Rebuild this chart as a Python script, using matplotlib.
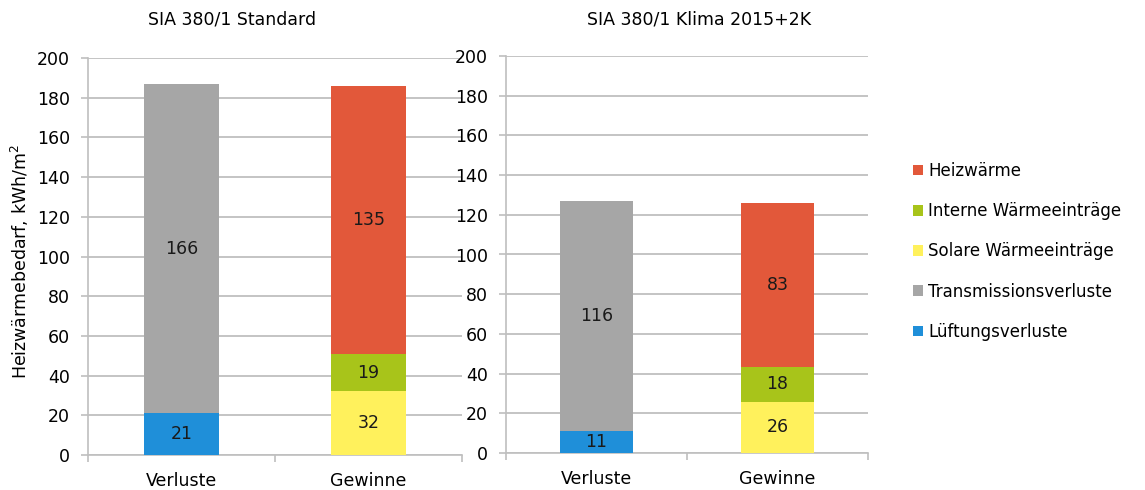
import matplotlib.pyplot as plt
import numpy as np

plt.rcParams['font.family'] = ['DejaVu Sans']

categories = ["Verluste", "Gewinne"]
series_names = ["Lüftungsverluste", "Transmissionsverluste", "Solare Wärmeeinträge",
                "Interne Wärmeeinträge", "Heizwärme"]
colors = ["#1F8FD9", "#A6A6A6", "#FFF15C", "#A8C41A", "#E2583A"]

# values per series: [Verluste, Gewinne]
standard = {
    "Lüftungsverluste": [21, 0],
    "Transmissionsverluste": [166, 0],
    "Solare Wärmeeinträge": [0, 32],
    "Interne Wärmeeinträge": [0, 19],
    "Heizwärme": [0, 135],
}
klima = {
    "Lüftungsverluste": [11, 0],
    "Transmissionsverluste": [116, 0],
    "Solare Wärmeeinträge": [0, 25.7],
    "Interne Wärmeeinträge": [0, 17.7],
    "Heizwärme": [0, 82.7],
}
titles = ["SIA 380/1 Standard", "SIA 380/1 Klima 2015+2K"]
yticks = np.arange(0, 201, 20)

fig = plt.figure(figsize=(11.45, 4.9), dpi=100)
ax1 = fig.add_axes([88/1145, 1-455/490, 374/1145, 397/490])
ax2 = fig.add_axes([506/1145, 1-453/490, 362/1145, 397/490])

grid_c = "#BFBFBF"
fs = 12.5
handles = {}
for ax, data in [(ax1, standard), (ax2, klima)]:
    x = np.arange(len(categories))
    bottom = np.zeros(len(categories))
    for name, col in zip(series_names, colors):
        vals = np.array(data[name], dtype=float)
        bars = ax.bar(x, vals, 0.4, bottom=bottom, color=col, label=name, zorder=3)
        labels = [f"{v:.0f}" if v > 0 else "" for v in vals]
        ax.bar_label(bars, labels=labels, label_type='center', fontsize=fs, color="#1a1a1a")
        handles[name] = bars
        bottom += vals
    ax.set_xlim(-0.5, 1.5)
    ax.set_ylim(0, 200)
    ax.set_yticks(yticks)
    ax.set_xticks(x)
    ax.set_xticklabels(categories)
    ax.set_xticks([-0.5, 0.5, 1.5], minor=True)
    ax.tick_params(axis='x', which='major', length=0, pad=12, labelsize=fs)
    ax.tick_params(axis='x', which='minor', length=5, color=grid_c, width=1.2)
    ax.tick_params(axis='y', length=5, color=grid_c, width=1.2, pad=8, labelsize=fs)
    ax.grid(axis='y', color=grid_c, linewidth=1.3, zorder=0)
    for s in ['top', 'right']:
        ax.spines[s].set_visible(False)
    for s in ['left', 'bottom']:
        ax.spines[s].set_color(grid_c)
        ax.spines[s].set_linewidth(1.2)

fig.text(232/1145, 1-20/490, titles[0], ha='center', va='center', fontsize=fs)
fig.text(699/1145, 1-20/490, titles[1], ha='center', va='center', fontsize=fs)
fig.text(20/1145, 1-262/490, "Heizwärmebedarf, kWh/m$^2$", rotation=90,
         ha='center', va='center', fontsize=fs)

order = series_names[::-1]
fig.legend([handles[n] for n in order], order, loc='upper left',
           bbox_to_anchor=(898/1145, 1-147/490), frameon=False, fontsize=12,
           handlelength=0.6, handleheight=0.6, handletextpad=0.3, labelspacing=1.33)

fig.savefig("out.png", dpi=100)
